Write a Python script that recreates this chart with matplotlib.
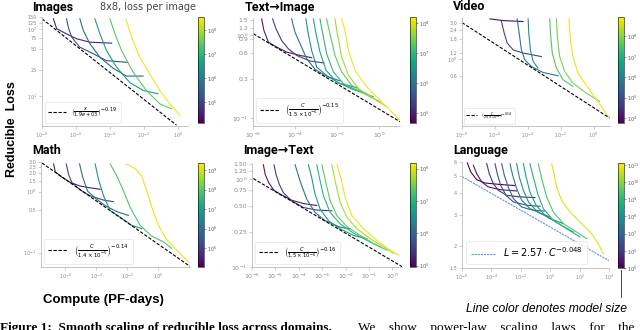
import matplotlib
matplotlib.use("Agg")
import matplotlib.pyplot as plt
from matplotlib.colors import LogNorm
from matplotlib.cm import ScalarMappable
from matplotlib.lines import Line2D
from matplotlib.ticker import FixedLocator, NullLocator, FixedFormatter

# ---------------- data ----------------
# Images (8x8)
images_N = [3.8e4, 1.7e5, 4.7e5, 3.5e6, 2.6e7, 2.7e8]
images_C = [
    [4.7e-8, 7.3e-8, 2.8e-7, 1.1e-6, 6.6e-6, 1.26e-4],
    [2.8e-7, 3.5e-7, 5.6e-7, 1.7e-6, 1.05e-5, 6.3e-5, 1.1e-3],
    [1.7e-6, 2.7e-6, 6.6e-6, 2.6e-5, 1.6e-4, 9.5e-4, 9.1e-3],
    [1.3e-5, 2.6e-5, 6.3e-5, 2.5e-4, 1.5e-3, 9.1e-3, 6.9e-2],
    [1e-4, 2e-4, 4.9e-4, 2.3e-3, 1.4e-2, 8.7e-2, 0.43],
    [8.7e-4, 1.9e-3, 5.8e-3, 2.2e-2, 8.7e-2, 0.34, 1.3],
]
images_L = [
    [143, 102, 85, 72, 64, 62],
    [143, 108, 76, 54, 43, 34, 32],
    [143, 96, 61, 38, 26, 20, 20],
    [143, 85, 48, 27, 16, 12.2, 10.9],
    [143, 85, 48, 23, 12.2, 7.7, 6.5],
    [143, 76, 38, 21.6, 12.2, 7.7, 5.2],
]
images_front_C = [1e-8, 0.84]
images_front_L = [143, 3.7]

# Text -> Image
t2i_N = [8.7e4, 2e5, 1e6, 2.7e6, 5.2e6, 9.8e6, 2.2e7, 5e7, 1.35e8]
t2i_C = [
    [2.6e-6, 3.3e-6, 5.4e-6, 1.34e-5, 4.0e-5, 1.74e-4, 6.2e-4],
    [8.6e-6, 1.25e-5, 2.3e-5, 4.8e-5, 1.2e-4, 5.2e-4, 2.4e-3],
    [6.9e-5, 1e-4, 1.74e-4, 3.6e-4, 9e-4, 3.2e-3, 1.39e-2],
    [3.3e-4, 4.3e-4, 6.2e-4, 1.08e-3, 3.2e-3, 1.39e-2, 8.6e-2],
    [7.5e-4, 1e-3, 1.55e-3, 3e-3, 9.6e-3, 6e-2, 0.26],
    [1.55e-3, 2.1e-3, 3.2e-3, 6.7e-3, 2e-2, 0.124, 0.54],
    [3.2e-3, 4.6e-3, 8e-3, 1.67e-2, 5e-2, 0.26, 1.12],
    [8e-3, 1.04e-2, 1.67e-2, 3.5e-2, 0.104, 0.54, 2.3],
    [1.67e-2, 2.4e-2, 3.5e-2, 7.2e-2, 0.26, 1.12, 4.0, 9.3],
]
t2i_L = [
    [1.55, 1.13, 0.818, 0.713, 0.622, 0.567, 0.532],
    [1.55, 1.18, 0.856, 0.681, 0.567, 0.486, 0.46],
    [1.55, 1.076, 0.782, 0.518, 0.386, 0.319, 0.281],
    [1.55, 1.03, 0.65, 0.412, 0.325, 0.261, 0.234],
    [1.55, 1.03, 0.622, 0.376, 0.273, 0.221, 0.199],
    [1.55, 1.03, 0.594, 0.36, 0.261, 0.208, 0.181],
    [1.55, 1.03, 0.567, 0.36, 0.249, 0.19, 0.158],
    [1.55, 1.03, 0.542, 0.328, 0.228, 0.173, 0.138],
    [1.55, 1.13, 0.65, 0.376, 0.238, 0.165, 0.12, 0.0955],
]
t2i_front_C = [1.04e-6, 10]
t2i_front_L = [1.03, 0.0912]

# Video
video_N = [1e4, 6.2e4, 6.8e5, 2.2e6, 3.1e7, 8.1e7, 6.2e8]
video_C = [
    [5e-7, 3.2e-6, 5.2e-5],
    [2.5e-6, 3.7e-6, 5.6e-6, 1.3e-5, 5.2e-5, 6.8e-4],
    [2.26e-5, 3e-5, 4.1e-5, 6.6e-5, 1.67e-4, 8.5e-4, 6.9e-3],
    [1.05e-4, 1.15e-4, 1.45e-4, 2.1e-4, 4.2e-4],
    [2.15e-3, 2.4e-3, 3.1e-3, 5.5e-3, 1.38e-2, 5.6e-2],
    [5.5e-3, 6.3e-3, 8.7e-3, 1.75e-2, 5.6e-2, 0.36, 2.3],
    [3.2e-2, 3.9e-2, 5.6e-2, 0.112, 0.57, 2.9, 8.5],
]
video_L = [
    [3.36, 3.19, 3.1],
    [3.1, 2.18, 1.61, 1.31, 1.19, 1.07],
    [3.36, 2.18, 1.31, 0.97, 0.79, 0.66, 0.597],
    [3.36, 2.18, 1.31, 0.92, 0.754],
    [3.36, 2.18, 1.19, 0.754, 0.53, 0.433],
    [3.36, 1.97, 1.07, 0.68, 0.479, 0.353, 0.275],
    [3.36, 1.78, 1.07, 0.648, 0.391, 0.236, 0.171],
]
video_front_C = [1e-8, 9.3]
video_front_L = [3.0, 0.166]

# Math
math_N = [3e4, 1.3e5, 8e5, 5e6, 7.4e7, 1.6e9]
math_C = [
    [1.77e-7, 2.26e-7, 6.1e-7, 2.1e-6, 9.3e-6, 4.1e-5, 1.8e-4],
    [1.16e-6, 1.64e-6, 2.7e-6, 9.3e-6, 4.1e-5, 3.0e-4, 1.3e-3],
    [8.4e-6, 1.38e-5, 2.76e-5, 8.6e-5, 3.8e-4, 2.15e-3, 1.22e-2],
    [8.6e-5, 1.4e-4, 3.0e-4, 8e-4, 3.5e-3, 2e-2, 8.8e-2],
    [8e-4, 1.95e-3, 5.25e-3, 1.56e-2, 6.9e-2, 0.39, 2.2, 7.6],
    [8.6e-3, 3.3e-2, 8.8e-2, 0.186, 0.5, 1.35, 3.6, 16, 91],
]
math_L = [
    [2.83, 2.1, 1.72, 1.41, 1.23, 1.15, 1.09],
    [2.83, 1.9, 1.4, 1.06, 0.851, 0.725, 0.682],
    [2.83, 1.68, 1.02, 0.78, 0.587, 0.47, 0.405],
    [2.83, 1.58, 0.851, 0.488, 0.381, 0.279, 0.247],
    [2.83, 1.9, 1.09, 0.552, 0.279, 0.186, 0.15, 0.117],
    [2.83, 2.38, 1.79, 1.02, 0.458, 0.247, 0.164, 0.11, 0.0707],
]
math_front_C = [3.1e-8, 116]
math_front_L = [2.94, 0.0594]

# Image -> Text
i2t_N = [1.6e5, 3.4e5, 1.5e6, 5.2e6, 1.1e7, 2.3e7, 5.6e7, 1.2e8]
i2t_C = [
    [3.06e-6, 3.7e-6, 5.2e-6, 8.8e-6, 1.87e-5, 5e-5, 1.58e-4, 5.9e-4],
    [8.8e-6, 1.07e-5, 1.48e-5, 2.2e-5, 5e-5, 1.58e-4, 5.9e-4, 2.6e-3],
    [7e-5, 1.14e-4, 2.2e-4, 5e-4, 1.35e-3, 5.9e-3, 1.58e-2],
    [2.6e-4, 3.6e-4, 5e-4, 8.2e-4, 1.87e-3, 5.9e-3, 2.2e-2, 8.2e-2],
    [5.9e-4, 7.7e-4, 1.14e-3, 2.2e-3, 5.9e-3, 2.2e-2, 8.2e-2, 0.306],
    [9.7e-4, 1.35e-3, 2.2e-3, 4.3e-3, 1.14e-2, 4.3e-2, 0.158, 0.59],
    [2.6e-3, 3.6e-3, 5.9e-3, 1.14e-2, 3.06e-2, 0.114, 0.43, 1.14],
    [4.3e-3, 6.3e-3, 9.7e-3, 1.87e-2, 5.9e-2, 0.22, 0.82, 1.87],
]
i2t_L = [
    [1.46, 1.128, 0.909, 0.746, 0.661, 0.576, 0.528, 0.502],
    [1.46, 1.128, 0.871, 0.702, 0.566, 0.476, 0.445, 0.437],
    [1.46, 0.95, 0.591, 0.418, 0.337, 0.284, 0.272],
    [1.46, 1.035, 0.673, 0.456, 0.337, 0.272, 0.229, 0.21],
    [1.46, 1.035, 0.644, 0.418, 0.31, 0.243, 0.201, 0.169],
    [1.46, 0.991, 0.566, 0.384, 0.289, 0.229, 0.185, 0.155],
    [1.46, 0.95, 0.542, 0.368, 0.272, 0.21, 0.169, 0.1425],
    [1.46, 1.035, 0.617, 0.384, 0.272, 0.201, 0.155, 0.136],
]
i2t_front_C = [1.14e-6, 2.6]
i2t_front_L = [1.017, 0.101]

# Language
lang_N = [1.5e5, 3.1e5, 8.3e5, 3.4e6, 1.04e7, 3.7e7, 1.1e8, 2.6e8, 7.1e8, 2.5e9, 6.6e10]
lang_C = [
    [2.3e-6, 3.9e-6, 1e-5, 3.7e-5, 3e-4, 4e-3],
    [5.9e-6, 1e-5, 2.2e-5, 6.2e-5, 3.8e-4, 5.2e-3],
    [4.8e-5, 7.2e-5, 1.35e-4, 3e-4, 1.1e-3, 8.8e-3, 9.2e-2],
    [1.76e-4, 2.5e-4, 4.3e-4, 9.8e-4, 3.1e-3, 2.5e-2, 0.202],
    [5e-4, 7.6e-4, 1.4e-3, 3.1e-3, 1.15e-2, 7.1e-2, 0.443],
    [1.84e-3, 2.8e-3, 5.2e-3, 1.15e-2, 4.2e-2, 0.263, 0.97],
    [5.2e-3, 7.9e-3, 1.5e-2, 3.3e-2, 0.12, 0.97, 7.8],
    [1.5e-2, 2.3e-2, 4.2e-2, 0.108, 0.443, 3.6, 37.5],
    [4.2e-2, 7.1e-2, 0.14, 0.341, 1.63, 13.2, 106],
    [0.156, 0.263, 0.575, 1.63, 7.8, 63, 303],
    [1.26, 1.81, 2.75, 6.0, 22, 138, 662, 1880, 4120],
]
lang_L = [
    [5.93, 5.27, 4.76, 4.56, 4.48, 4.41],
    [5.75, 5.15, 4.62, 4.33, 4.18, 4.11],
    [5.87, 5.15, 4.52, 4.14, 3.88, 3.80, 3.77],
    [5.87, 5.15, 4.42, 3.88, 3.56, 3.41, 3.36],
    [5.87, 5.04, 4.33, 3.72, 3.33, 3.19, 3.16],
    [5.87, 5.04, 4.24, 3.64, 3.26, 3.05, 2.92],
    [5.87, 4.93, 4.14, 3.56, 3.16, 2.86, 2.68],
    [5.87, 4.93, 4.05, 3.41, 2.99, 2.68, 2.40],
    [5.87, 4.93, 3.97, 3.26, 2.80, 2.51, 2.25],
    [5.87, 4.83, 3.80, 3.12, 2.68, 2.40, 2.20],
    [5.87, 5.15, 4.33, 3.64, 3.12, 2.68, 2.35, 2.06, 1.81],
]
lang_front_C = [1e-6, 1e4]
lang_front_L = [4.96, 1.65]

# ---------------- figure ----------------
W, H = 640, 330
fig = plt.figure(figsize=(W / 100, H / 100), dpi=100)


def box(x0, y0, x1, y1):
    return [x0 / W, 1 - y1 / H, (x1 - x0) / W, (y1 - y0) / H]


def panel(axbox, cbox, Cs, Ls, Ns, vmin, vmax, cticks, front_C, front_L, label,
          xlim, ylim, xticks, yticks, ylabels, tick_fs=3.5, leg_fs=5,
          front_color="black", front_ls="--"):
    ax = fig.add_axes(box(*axbox))
    cax = fig.add_axes(box(*cbox))
    norm = LogNorm(vmin=vmin, vmax=vmax)
    cmap = plt.get_cmap("viridis")
    for C, L, n in zip(Cs, Ls, Ns):
        ax.plot(C, L, color=cmap(norm(n)), lw=0.8)
    ax.plot(front_C, front_L, color=front_color, ls=front_ls, lw=0.8, label=label,
            dashes=(3, 1.5) if front_ls == "--" else (2, 0.8))
    ax.set_xscale("log")
    ax.set_yscale("log")
    ax.set_xlim(*xlim)
    ax.set_ylim(*ylim)
    ax.xaxis.set_major_locator(FixedLocator(xticks))
    ax.xaxis.set_minor_locator(NullLocator())
    ax.yaxis.set_major_locator(FixedLocator(yticks))
    ax.yaxis.set_major_formatter(FixedFormatter(ylabels))
    ax.yaxis.set_minor_locator(NullLocator())
    for s in ("top", "right"):
        ax.spines[s].set_visible(False)
    for s in ("left", "bottom"):
        ax.spines[s].set_color("#bbbbbb")
        ax.spines[s].set_linewidth(0.6)
    ax.tick_params(labelsize=tick_fs, colors="#bbbbbb", labelcolor="#888888",
                   length=2, width=0.5, pad=1.5)
    leg = ax.legend(loc="lower left", fontsize=leg_fs, frameon=True, fancybox=True,
                    handlelength=2.5, borderpad=0.5, borderaxespad=0.4)
    leg.get_frame().set_edgecolor("#dddddd")
    leg.get_frame().set_linewidth(0.5)

    cb = fig.colorbar(ScalarMappable(norm=norm, cmap=cmap), cax=cax)
    cb.set_ticks(cticks)
    cax.yaxis.set_minor_locator(NullLocator())
    cb.outline.set_linewidth(0.4)
    cax.tick_params(labelsize=3.5, length=1.5, width=0.4, pad=1, colors="#555555")
    return ax


panel((42, 17, 188, 126), (198, 17, 204, 123), images_C, images_L, images_N,
      1.4e4, 3.4e8, [1e5, 1e6, 1e7, 1e8], images_front_C, images_front_L,
      r"$\left(\frac{x}{1.9e+03}\right)^{-0.19}$",
      (1e-8, 4), (3.6, 152), [1e-8, 1e-6, 1e-4, 1e-2, 1e0],
      [10, 25, 50, 75, 100, 125, 150],
      ["$10^1$", "25", "50", "75", "$10^2$", "125", "150"], tick_fs=3.5, leg_fs=5)

panel((253, 18, 400, 126), (410, 17, 416, 123), t2i_C, t2i_L, t2i_N,
      4.6e4, 1.6e8, [1e5, 1e6, 1e7, 1e8], t2i_front_C, t2i_front_L,
      r"$\left(\frac{C}{1.5\times10^{-6}}\right)^{-0.15}$",
      (1e-6, 10), (0.081, 1.59), [1e-6, 1e-4, 1e-2, 1e0],
      [0.1, 0.3, 0.6, 0.9, 1.0, 1.2, 1.5],
      ["$10^{-1}$", "0.3", "0.6", "0.9", "$10^0$", "1.2", "1.5"], tick_fs=4.5, leg_fs=5.5)

panel((462, 18, 610, 126), (618, 17, 624, 123), video_C, video_L, video_N,
      5.6e3, 9e8, [1e4, 1e5, 1e6, 1e7, 1e8], video_front_C, video_front_L,
      r"$\left(\frac{C}{2.4\times10^{-5}}\right)^{-0.14}$",
      (1e-8, 10), (0.13, 3.45), [1e-8, 1e-6, 1e-4, 1e-2, 1e0],
      [0.6, 1.0, 1.2, 1.8, 2.4, 3.0],
      ["0.6", "$10^0$", "1.2", "1.8", "2.4", "3.0"], tick_fs=3.5, leg_fs=3.2)

panel((41, 162, 190, 267), (198, 163, 204, 267), math_C, math_L, math_N,
      1.1e4, 2.3e9, [1e5, 1e6, 1e7, 1e8, 1e9], math_front_C, math_front_L,
      r"$\left(\frac{C}{1.4\times10^{-5}}\right)^{-0.14}$",
      (2.7e-8, 116), (0.058, 3.05), [1e-6, 1e-4, 1e-2, 1e0],
      [0.1, 0.5, 1.0, 1.5, 2.0, 2.5, 3.0],
      ["$10^{-1}$", "0.5", "$10^0$", "1.5", "2.0", "2.5", "3.0"], tick_fs=3.5, leg_fs=5.6)

panel((252, 163, 402, 267), (410, 163, 416, 267), i2t_C, i2t_L, i2t_N,
      9e4, 1.5e8, [1e5, 1e6, 1e7, 1e8], i2t_front_C, i2t_front_L,
      r"$\left(\frac{C}{1.5\times10^{-6}}\right)^{-0.16}$",
      (1e-6, 2.6), (0.1, 1.53), [1e-6, 1e-5, 1e-4, 1e-3, 1e-2, 1e-1, 1e0],
      [0.1, 0.25, 0.5, 0.75, 1.0, 1.25, 1.5],
      ["$10^{-1}$", "0.25", "0.50", "0.75", "$10^0$", "1.25", "1.50"], tick_fs=4.5, leg_fs=5.4)

panel((462, 162, 609, 268), (618, 163, 624, 268), lang_C, lang_L, lang_N,
      1e5, 1.3e11, [1e5, 1e6, 1e7, 1e8, 1e9, 1e10, 1e11], lang_front_C, lang_front_L,
      r"$L = 2.57 \cdot C^{-0.048}$",
      (1e-6, 1e4), (1.5, 6), [1e-6, 1e-4, 1e-2, 1e0, 1e2, 1e4],
      [1.5, 2, 3, 4, 5, 6], ["1.5", "2", "3", "4", "5", "6"], tick_fs=3.5, leg_fs=7,
      front_color="#6b8fe6", front_ls=":")

# ---------------- titles and labels ----------------
title_kw = dict(fontsize=9, fontweight="bold", family=["Roboto", "DejaVu Sans"],
                va="center", ha="left")
fig.text(32 / W, 1 - 7 / H, "Images", **title_kw)
fig.text(100 / W, 1 - 7 / H, "8x8, loss per image", fontsize=7, color="#444444",
         va="center", ha="left")
fig.text(245 / W, 1 - 7 / H, "Text\u2192Image", **title_kw)
fig.text(453 / W, 1 - 7 / H, "Video", **title_kw)
fig.text(32 / W, 1 - 151 / H, "Math", **title_kw)
fig.text(243 / W, 1 - 151 / H, "Image\u2192Text", **title_kw)
fig.text(453 / W, 1 - 151 / H, "Language", **title_kw)

fig.text(12 / W, 1 - 129 / H, "Reducible  Loss", fontsize=9, fontweight="bold",
         family="Liberation Sans", rotation=90, va="center", ha="center")
fig.text(103 / W, 1 - 300 / H, "Compute (PF-days)", fontsize=9.5, fontweight="bold",
         family="Liberation Sans", va="center", ha="center")

fig.add_artist(Line2D([620.5 / W, 620.5 / W], [1 - 270 / H, 1 - 297 / H],
                      color="#444444", lw=0.7))
fig.text(627 / W, 1 - 309 / H, "Line color denotes model size", fontsize=8.7,
         style="italic", family="Liberation Sans", va="center", ha="right")

fig.text(0, 1 - 322 / H, "Figure 1:  Smooth scaling of reducible loss across domains.",
         fontsize=9.5, fontweight="bold", family="Liberation Serif", va="top", ha="left")
fig.text(358 / W, 1 - 322 / H, "We    show    power-law    scaling    laws    for    the",
         fontsize=9.5, family="Liberation Serif", va="top", ha="left")

fig.savefig("out.png", dpi=100)
